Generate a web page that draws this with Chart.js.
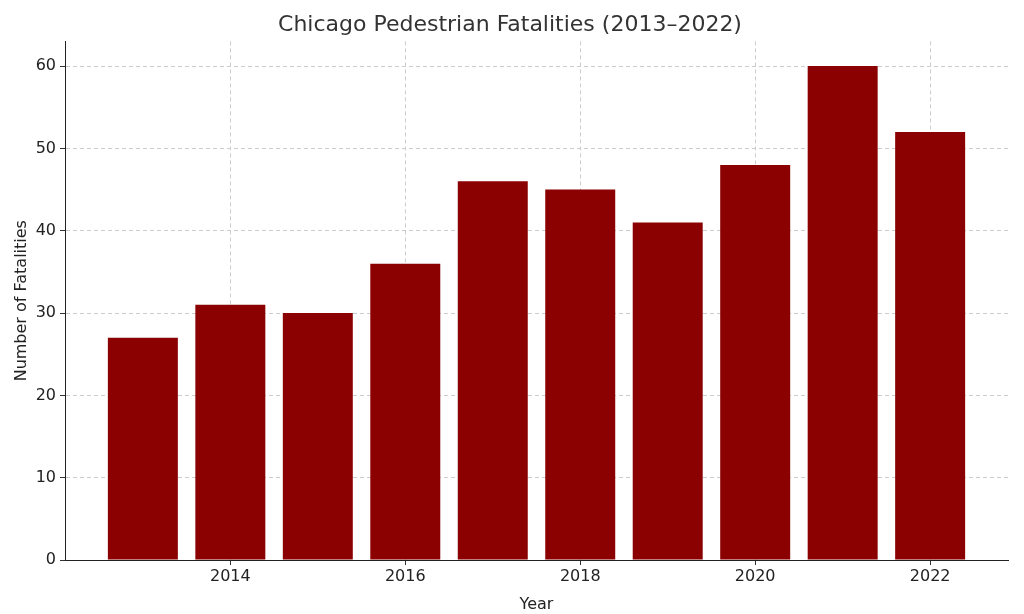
<!DOCTYPE html>
<html>
<head>
<meta charset="utf-8">
<script src="https://cdn.jsdelivr.net/npm/chart.js@4"></script>
<style>
  html, body { margin: 0; padding: 0; background: #fff; }
  #wrap { width: 1024px; height: 614px; }
</style>
</head>
<body>
<div id="wrap"><canvas id="c" width="1024" height="614"></canvas></div>
<script>
const years = [2013, 2014, 2015, 2016, 2017, 2018, 2019, 2020, 2021, 2022];
const fatalities = [27, 31, 30, 36, 46, 45, 41, 48, 60, 52];
const xTicks = [2014, 2016, 2018, 2020, 2022];
const yTicks = [0, 10, 20, 30, 40, 50, 60];

const font = 'DejaVu Sans';

new Chart(document.getElementById('c'), {
  type: 'bar',
  data: {
    datasets: [{
      data: years.map((y, i) => ({ x: y, y: fatalities[i] })),
      backgroundColor: '#8b0000',
      borderWidth: 0,
      barPercentage: 0.8,
      categoryPercentage: 1.0,
    }],
  },
  options: {
    responsive: false,
    animation: false,
    layout: { padding: { left: 12, right: 16, top: 0, bottom: 0 } },
    plugins: {
      legend: { display: false },
      tooltip: { enabled: false },
      title: {
        display: true,
        text: 'Chicago Pedestrian Fatalities (2013–2022)',
        color: '#333',
        font: { family: font, size: 22, weight: 'normal' },
        padding: { top: 12, bottom: 3 },
      },
    },
    scales: {
      x: {
        type: 'linear',
        offset: false,
        min: 2012.11,
        max: 2022.89,
        afterBuildTicks: s => { s.ticks = xTicks.map(v => ({ value: v })); },
        afterFit: s => { s.height = 54; },
        ticks: { color: '#222', font: { family: font, size: 16 }, padding: 2, callback: v => String(v) },
        grid: { offset: false, color: '#ccc', tickColor: '#333', tickLength: 5 },
        border: { display: true, color: '#222', dash: [4, 3] },
        title: { display: true, text: 'Year', color: '#222', font: { family: font, size: 16 }, padding: 0 },
      },
      y: {
        min: 0,
        max: 63,
        afterBuildTicks: s => { s.ticks = yTicks.map(v => ({ value: v })); },
        afterFit: s => { s.width = 53; },
        ticks: { color: '#222', font: { family: font, size: 16 }, padding: 4 },
        grid: { color: '#ccc', tickColor: '#333', tickLength: 5 },
        border: { display: true, color: '#222', dash: [4, 3] },
        title: { display: true, text: 'Number of Fatalities', color: '#222', font: { family: font, size: 16 }, padding: 0 },
      },
    },
  },
});
</script>
</body>
</html>
